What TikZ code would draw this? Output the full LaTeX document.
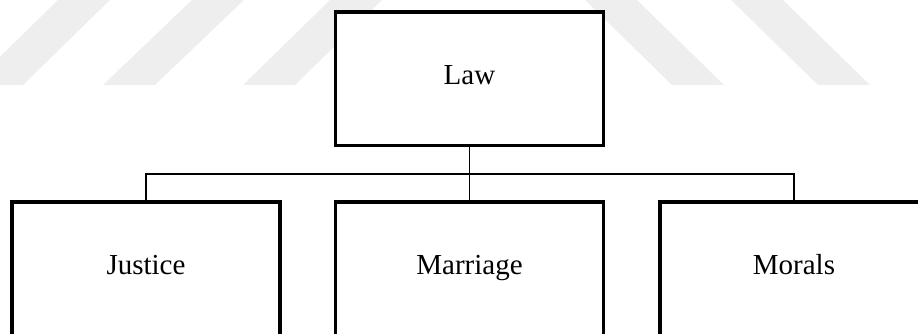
\documentclass[tikz,border=0pt]{standalone}
\usepackage{fontspec}
\setmainfont{Liberation Serif}
\usepackage{tikz}
\usetikzlibrary{positioning}
\definecolor{wmgray}{HTML}{EEEEEE}

\begin{document}
\begin{tikzpicture}[x=1cm,y=1cm,font=\fontsize{16.5}{20}\selectfont,
 box/.style={draw,line width=2pt,fill=white,minimum width=5.36cm,minimum height=2.67cm,
  text height=.85em,text depth=.19em},
 link/.style={line width=1pt}]
\useasboundingbox (0,0) rectangle (18.36,6.68);
\clip (0,0) rectangle (18.36,6.68);
% watermark bands
\foreach \b/\t in {-.58/1.16,2.06/3.84,4.86/6.6,13.44/11.7,16.36/14.62}
 \fill[wmgray] (\b,4.98) -- (\t,6.68) -- (\t+1.04,6.68) -- (\b+1.04,4.98) -- cycle;
\node[box] (law) at (9.39,5.10) {Law};
\node[box] (justice) at (2.92,1.30) {Justice};
\node[box] (marriage) at (9.39,1.30) {Marriage};
\node[box] (morals) at (15.88,1.30) {Morals};
\coordinate (bar) at (9.39,3.194);
\draw[link] (law.south) -- (marriage.north);
\draw[link] (justice.north) |- (bar) -| (morals.north);
\end{tikzpicture}
\end{document}
